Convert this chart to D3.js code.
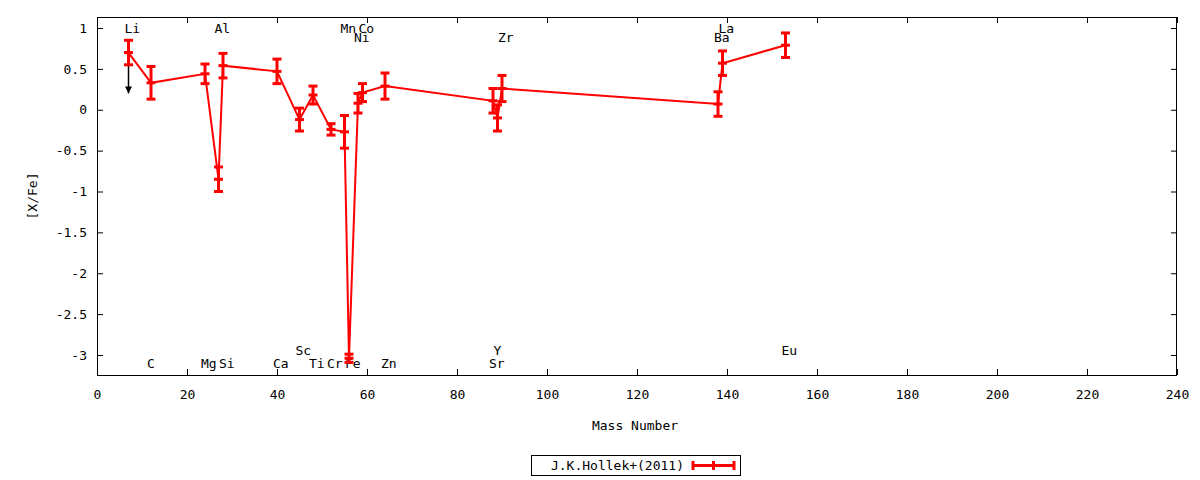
<!DOCTYPE html>
<html>
<head>
<meta charset="utf-8">
<script src="https://cdn.jsdelivr.net/npm/d3@7/dist/d3.min.js"></script>
<style>
  body { margin: 0; background: #fff; }
  svg text { font-family: "DejaVu Sans Mono", monospace; font-size: 13px; fill: #000; }
</style>
</head>
<body>
<svg id="chart" width="1200" height="480"></svg>
<script>
// abundance pattern, J.K.Hollek+(2011)
var elements   = ["Li","C","Mg","Al","Si","Ca","Sc","Ti","Cr","Mn","Fe","Ni","Co","Zn","Sr","Y","Zr","Ba","La","Eu"];
var massNumber = [7, 12, 24, 27, 28, 40, 45, 48, 52, 55, 56, 58, 59, 64, 88, 89, 90, 138, 139, 153];
var xFe        = [0.70, 0.33, 0.44, -0.85, 0.54, 0.47, -0.12, 0.18, -0.24, -0.27, -3.04, 0.08, 0.21, 0.29, 0.11, -0.10, 0.26, 0.07, 0.57, 0.79];
var xFeErr     = [0.15, 0.20, 0.12, 0.15, 0.15, 0.15, 0.14, 0.11, 0.07, 0.20, 0.05, 0.12, 0.11, 0.16, 0.15, 0.16, 0.16, 0.15, 0.15, 0.15];
// where each element name is written ([X/Fe] level of the label)
var labelLevel = [1.0, -3.1, -3.1, 1.0, -3.1, -3.1, -2.94, -3.1, -3.1, 1.0, -3.1, 0.89, 1.0, -3.1, -3.1, -2.94, 0.89, 0.89, 1.0, -2.94];
// upper limits drawn as arrows
var limitMass = [7];
var limitFrom = [0.70];
var limitTo   = [0.20];

var xTicks = [0, 20, 40, 60, 80, 100, 120, 140, 160, 180, 200, 220, 240];
var yTicks = [1, 0.5, 0, -0.5, -1, -1.5, -2, -2.5, -3];
var seriesName = "J.K.Hollek+(2011)";

var W = 1200, H = 480;
var margin = {left: 97, right: 23, top: 17, bottom: 105};
var pw = W - margin.left - margin.right,
	ph = H - margin.top - margin.bottom;
var RED = "#ff0000";
var capW = 4.5;

var svg = d3.select("#chart");
var g = svg.append("g").attr("transform", "translate(" + margin.left + "," + margin.top + ")");

var x = d3.scaleLinear().domain([0, 240]).range([0, pw]);
var y = d3.scaleLinear().domain([-3.245, 1.135]).range([ph, 0]);

var fmt = function(d){ return String(d); };

// axes, ticks pointing inward on all four sides
g.append("g").attr("transform", "translate(0," + ph + ")")
	.call(d3.axisBottom(x).tickValues(xTicks).tickSizeInner(-6).tickSizeOuter(0).tickPadding(15).tickFormat(fmt));
g.append("g")
	.call(d3.axisTop(x).tickValues(xTicks).tickSizeInner(-6).tickSizeOuter(0).tickFormat(""));
g.append("g")
	.call(d3.axisLeft(y).tickValues(yTicks).tickSizeInner(-6).tickSizeOuter(0).tickPadding(10).tickFormat(fmt));
g.append("g").attr("transform", "translate(" + pw + ",0)")
	.call(d3.axisRight(y).tickValues(yTicks).tickSizeInner(-6).tickSizeOuter(0).tickFormat(""));
g.selectAll(".domain").remove();
g.selectAll(".tick line").attr("stroke", "#000");
g.selectAll(".tick text").style("font-family", "'DejaVu Sans Mono', monospace").style("font-size", "13px");

g.append("rect").attr("x", 0.5).attr("y", 0.5).attr("width", pw - 1).attr("height", ph)
	.attr("fill", "none").attr("stroke", "#000").attr("stroke-width", 1);

// axis titles
svg.append("text").attr("x", margin.left + pw / 2 - 2).attr("y", 430)
	.attr("text-anchor", "middle").text("Mass Number");
svg.append("text").attr("transform", "translate(37," + (margin.top + ph / 2) + ") rotate(-90)")
	.attr("text-anchor", "middle").text("[X/Fe]");

// element names
g.selectAll(".elabel").data(elements).enter().append("text")
	.attr("class", "elabel")
	.attr("x", function(d, i){ return x(massNumber[i]) - 4; })
	.attr("y", function(d, i){ return y(labelLevel[i]); })
	.attr("dy", "0.36em")
	.text(function(d){ return d; });

// upper limit arrows (drawn under the data)
svg.append("defs").append("marker").attr("id", "ahead")
	.attr("viewBox", "0 0 10 10").attr("refX", 10).attr("refY", 5)
	.attr("markerWidth", 7).attr("markerHeight", 7).attr("markerUnits", "userSpaceOnUse")
	.attr("orient", "auto")
	.append("path").attr("d", "M0,0 L10,5 L0,10 Z").attr("fill", "#000");
limitMass.forEach(function(m, i){
	g.append("line")
		.attr("x1", x(m)).attr("y1", y(limitFrom[i]))
		.attr("x2", x(m)).attr("y2", y(limitTo[i]))
		.attr("stroke", "#000").attr("stroke-width", 1.5)
		.attr("marker-end", "url(#ahead)");
});

// connecting line
var pts = massNumber.map(function(m, i){ return [m, xFe[i]]; });
g.append("path").datum(pts)
	.attr("fill", "none").attr("stroke", RED).attr("stroke-width", 2)
	.attr("d", d3.line().x(function(d){ return x(d[0]); }).y(function(d){ return y(d[1]); }));

// error bars with caps and a plus at the point
var bars = g.selectAll(".ebar").data(pts).enter().append("g").attr("class", "ebar")
	.attr("stroke", RED).attr("stroke-width", 3);
bars.append("line")
	.attr("x1", function(d){ return x(d[0]); }).attr("x2", function(d){ return x(d[0]); })
	.attr("y1", function(d, i){ return y(d[1] + xFeErr[i]); })
	.attr("y2", function(d, i){ return y(d[1] - xFeErr[i]); });
[1, 0, -1].forEach(function(s){
	bars.append("line")
		.attr("x1", function(d){ return x(d[0]) - capW; })
		.attr("x2", function(d){ return x(d[0]) + capW; })
		.attr("y1", function(d, i){ return y(d[1] + s * xFeErr[i]); })
		.attr("y2", function(d, i){ return y(d[1] + s * xFeErr[i]); });
});

// legend
var lg = svg.append("g");
lg.append("rect").attr("x", 531.5).attr("y", 455.5).attr("width", 209).attr("height", 20)
	.attr("fill", "#fff").attr("stroke", "#000");
lg.append("text").attr("x", 684).attr("y", 470).attr("text-anchor", "end").text(seriesName);
lg.append("line").attr("x1", 693).attr("x2", 734).attr("y1", 465.5).attr("y2", 465.5)
	.attr("stroke", RED).attr("stroke-width", 3);
[693, 713.5, 734].forEach(function(px){
	lg.append("line").attr("x1", px).attr("x2", px).attr("y1", 461).attr("y2", 470)
		.attr("stroke", RED).attr("stroke-width", 3);
});
</script>
</body>
</html>
